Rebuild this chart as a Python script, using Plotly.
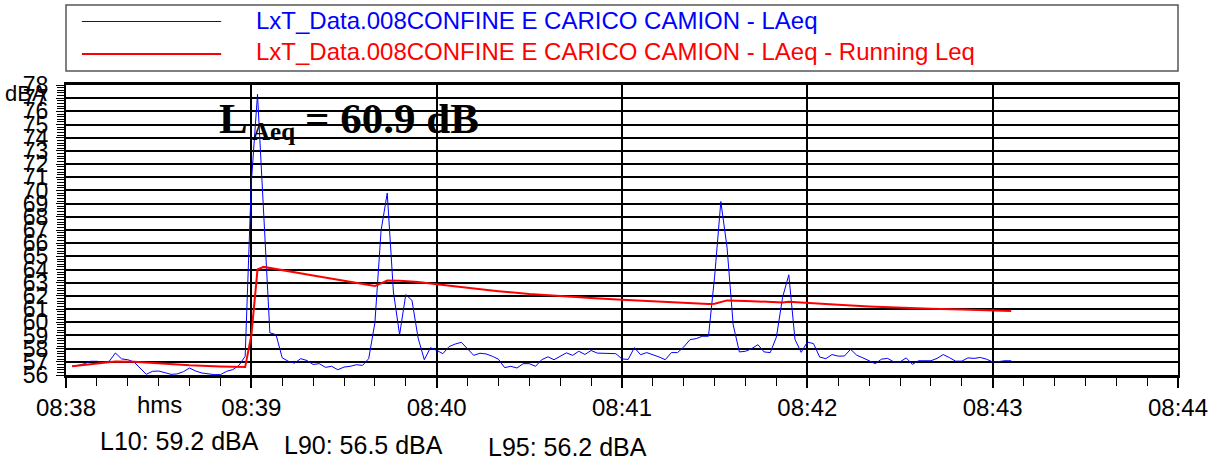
import plotly.graph_objects as go
from datetime import datetime, timedelta

# ---------------- data ----------------
T0 = datetime(2024, 1, 1, 8, 38, 0)          # axis start 08:38:00
T_END = datetime(2024, 1, 1, 8, 44, 0)       # axis end 08:44:00

# LAeq samples, every 2 s from 08:38:02
LAEQ_SECONDS = list(range(2, 307, 2))
LAEQ_DB = [
    56.68, 56.73, 56.86, 57.04, 57.04, 56.99, 57.04, 57.67, 57.22, 57.16,
    56.99, 56.53, 56.05, 56.28, 56.30, 56.18, 56.05, 56.08, 56.25, 56.53,
    56.30, 56.15, 56.08, 56.03, 56.03, 56.28, 56.41, 56.73, 57.42, 70.60,
    77.30, 68.00, 59.20, 59.06, 57.30, 57.04, 56.90, 57.24, 57.10, 56.80,
    56.86, 56.58, 56.66, 56.40, 56.60, 56.66, 56.78, 56.73, 57.24, 59.95,
    66.96, 69.80, 62.30, 59.06, 62.10, 61.66, 58.80, 57.16, 58.07, 57.87,
    57.62, 58.15, 58.35, 58.48, 58.02, 57.49, 57.65, 57.60, 57.42, 57.20,
    56.56, 56.66, 56.53, 56.86, 56.86, 56.66, 57.16, 57.38, 57.16, 57.42,
    57.68, 57.49, 57.80, 57.56, 57.86, 57.66, 57.66, 57.66, 57.62, 57.22,
    57.18, 58.08, 57.54, 57.70, 57.54, 57.37, 57.16, 57.70, 57.70, 58.13,
    58.68, 58.76, 58.94, 58.94, 63.50, 69.16, 65.70, 59.80, 57.75, 57.80,
    58.00, 58.30, 57.75, 57.70, 58.89, 61.90, 63.60, 58.70, 57.72, 58.50,
    58.38, 57.36, 57.24, 57.55, 57.43, 57.44, 57.95, 57.50, 57.30, 57.05,
    56.86, 57.20, 57.26, 56.99, 56.99, 57.30, 56.81, 57.08, 57.08, 57.08,
    57.26, 57.55, 57.32, 57.05, 57.05, 57.30, 57.26, 57.33, 57.20, 56.99,
    57.02, 57.08, 57.08,
]

# Running Leq (seconds after 08:38:00, dB)
RUN_SECONDS = [2, 8, 16, 22, 30, 40, 50, 58, 60, 62, 64, 72, 80, 90, 98, 100,
               102, 104, 108, 114, 120, 130, 140, 150, 160, 170, 180, 190, 200,
               208, 210, 212, 214, 220, 230, 232, 234, 240, 250, 260, 270, 280,
               290, 300, 306]
RUN_DB = [56.66, 56.82, 57.02, 57.00, 56.88, 56.74, 56.65, 56.60, 59.00, 64.00,
          64.20, 63.90, 63.55, 63.15, 62.80, 62.76, 62.95, 63.17, 63.15, 63.05,
          62.88, 62.60, 62.36, 62.15, 61.98, 61.84, 61.70, 61.58, 61.48, 61.38,
          61.40, 61.55, 61.66, 61.62, 61.48, 61.50, 61.55, 61.45, 61.32, 61.20,
          61.10, 61.02, 60.96, 60.90, 60.85]

SERIES_NAMES = ["LxT_Data.008CONFINE E CARICO CAMION - LAeq",
                "LxT_Data.008CONFINE E CARICO CAMION - LAeq - Running Leq"]
SERIES_COLORS = ["#0000ff", "#ff0000"]
STATS_TEXT = ["L10: 59.2 dBA", "L90: 56.5 dBA", "L95: 56.2 dBA"]
LAEQ_TOTAL = "60.9"
Y_MIN, Y_MAX = 56, 78
Y_UNIT = "dBA"
X_UNIT = "hms"

# ---------------- layout helpers ----------------
W, H = 1220, 463
ML, MR, MT, MB = 66, 36, 85, 88
PW, PH = W - ML - MR, H - MT - MB


def px(x):
    return (x - ML) / PW


def py(y):
    return (H - MB - y) / PH


SANS = "Liberation Sans, Arial, sans-serif"
SERIF = "Liberation Serif, Times New Roman, serif"

fig = go.Figure()
fig.add_trace(go.Scatter(
    x=[T0 + timedelta(seconds=s) for s in LAEQ_SECONDS], y=LAEQ_DB,
    mode="lines", name=SERIES_NAMES[0], showlegend=False,
    line=dict(color=SERIES_COLORS[0], width=1)))
fig.add_trace(go.Scatter(
    x=[T0 + timedelta(seconds=s) for s in RUN_SECONDS], y=RUN_DB,
    mode="lines", name=SERIES_NAMES[1], showlegend=False,
    line=dict(color=SERIES_COLORS[1], width=2)))

shapes = [
    # legend box
    dict(type="rect", xref="paper", yref="paper", x0=px(66), x1=px(1184),
         y0=py(71), y1=py(5), line=dict(color="#555555", width=1.5),
         fillcolor="rgba(0,0,0,0)", layer="above"),
]
annotations = []
legend_y = [21.5, 54]
text_y = [20, 51]
for i in range(2):
    shapes.append(dict(type="line", xref="paper", yref="paper",
                       x0=px(82), x1=px(222), y0=py(legend_y[i]), y1=py(legend_y[i]),
                       line=dict(color=SERIES_COLORS[i], width=1 if i == 0 else 2)))
    annotations.append(dict(xref="paper", yref="paper", x=px(255), y=py(text_y[i]),
                            xanchor="left", yanchor="middle", showarrow=False,
                            text=SERIES_NAMES[i],
                            font=dict(family=SANS, size=24, color=SERIES_COLORS[i])))

# LAeq annotation
annotations += [
    dict(xref="paper", yref="paper", x=px(218), y=py(118), xanchor="left",
         yanchor="middle", showarrow=False, text="<b>L</b>",
         font=dict(family=SERIF, size=43, color="black")),
    dict(xref="paper", yref="paper", x=px(251), y=py(131), xanchor="left",
         yanchor="middle", showarrow=False, text="<b>Aeq</b>",
         font=dict(family=SERIF, size=25, color="black")),
    dict(xref="paper", yref="paper", x=px(304), y=py(118), xanchor="left",
         yanchor="middle", showarrow=False, text="<b>= " + LAEQ_TOTAL + " dB</b>",
         font=dict(family=SERIF, size=43, color="black")),
]
# units
annotations += [
    dict(xref="paper", yref="paper", x=px(26), y=py(93), xanchor="center",
         yanchor="middle", showarrow=False, text=Y_UNIT,
         font=dict(family=SANS, size=22, color="black")),
    dict(xref="paper", yref="paper", x=px(160), y=py(404), xanchor="center",
         yanchor="middle", showarrow=False, text=X_UNIT,
         font=dict(family=SANS, size=24, color="black")),
]
# statistics (positioned by the bottom of their text boxes)
STAT_SIZE = 25
stat_x = [99, 284, 489]
stat_baseline = [451, 454.5, 457]
for i, s in enumerate(STATS_TEXT):
    annotations.append(dict(xref="paper", yref="paper", x=px(stat_x[i]),
                            y=py(stat_baseline[i] + 0.212 * STAT_SIZE),
                            xanchor="left", yanchor="bottom", borderpad=0,
                            showarrow=False, text=s,
                            font=dict(family=SANS, size=STAT_SIZE, color="black")))

fig.update_layout(
    width=W, height=H, margin=dict(l=ML, r=MR, t=MT, b=MB, pad=0),
    paper_bgcolor="white", plot_bgcolor="white",
    shapes=shapes, annotations=annotations, showlegend=False,
    xaxis=dict(
        type="date", range=[T0, T_END], tick0=T0, dtick=60000, tickformat="%H:%M",
        ticks="outside", ticklen=10, tickwidth=1.5, tickcolor="black",
        showgrid=True, gridcolor="black", gridwidth=1.6,
        showline=True, linecolor="black", linewidth=2.5, mirror=True,
        zeroline=False, tickfont=dict(family=SANS, size=24, color="black"),
        ticklabelstandoff=-1,
        minor=dict(dtick=10000, ticks="outside", ticklen=8, tickwidth=1,
                   tickcolor="black", showgrid=False),
    ),
    yaxis=dict(
        range=[Y_MIN, Y_MAX], tick0=Y_MIN, dtick=1,
        ticks="outside", ticklen=8, tickwidth=1, tickcolor="black",
        showgrid=True, gridcolor="black", gridwidth=1.6,
        showline=True, linecolor="black", linewidth=2, mirror=True,
        zeroline=False, tickfont=dict(family=SANS, size=23, color="black"),
        ticklabelstandoff=3,
        minor=dict(dtick=0.2, ticks="outside", ticklen=7, tickwidth=1,
                   tickcolor="black", showgrid=False),
    ),
)

fig.write_html("out.html")
